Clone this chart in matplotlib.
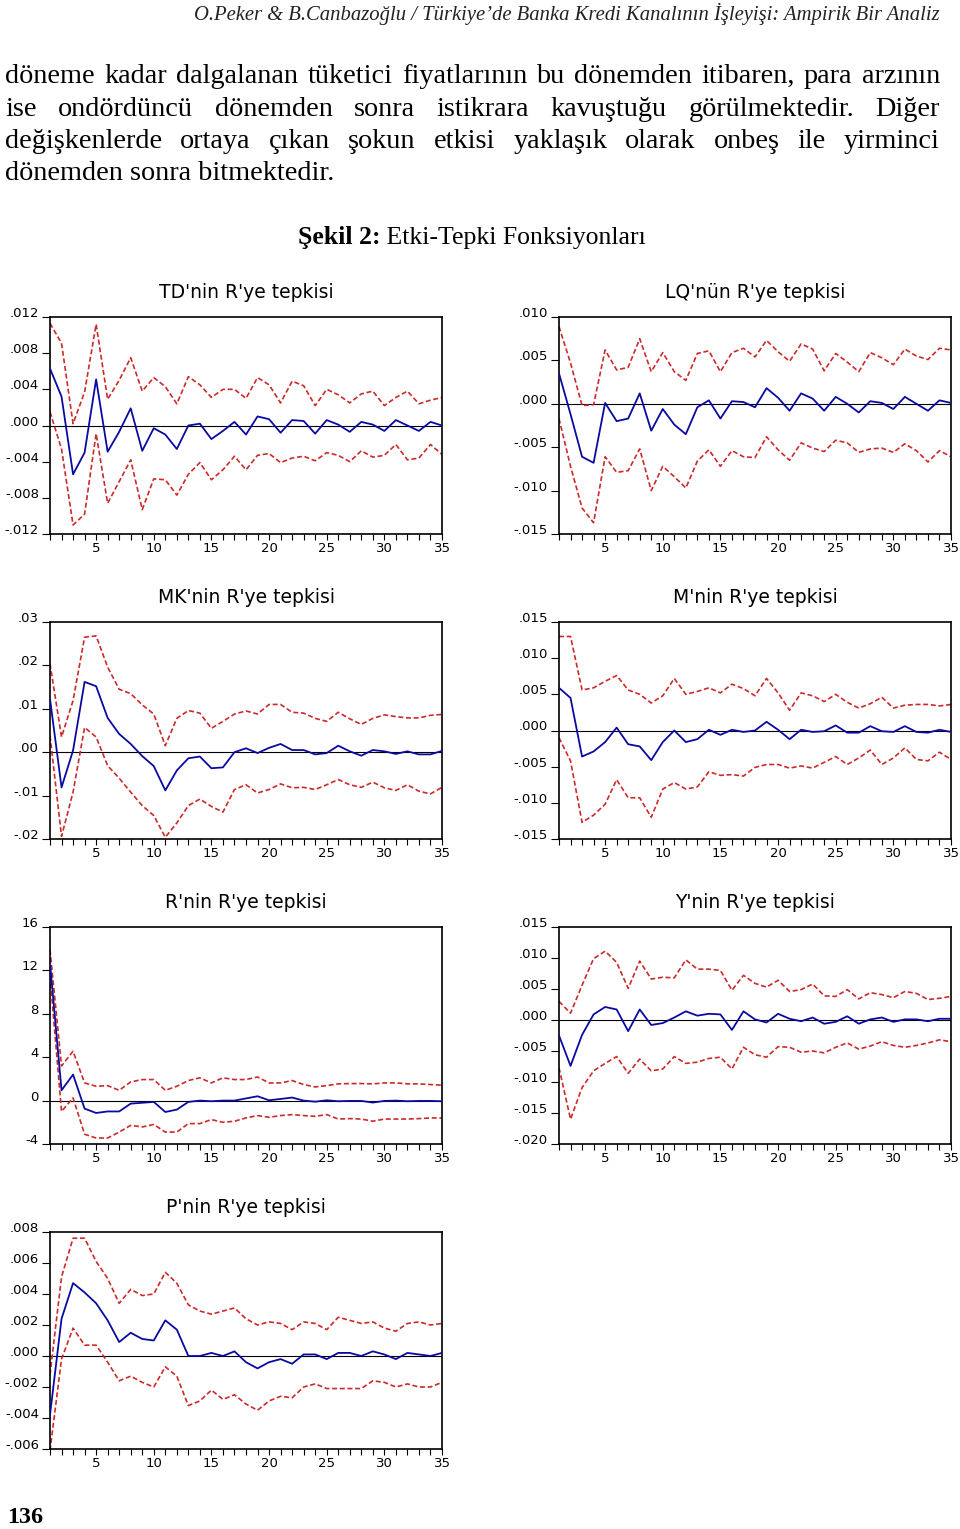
import matplotlib
matplotlib.use("Agg")
import matplotlib.pyplot as plt
from matplotlib.ticker import FixedLocator, MultipleLocator
import numpy as np

W, H = 960, 1529
periods = np.arange(1, 36)
xticks = [5, 10, 15, 20, 25, 30, 35]

# ---------------- data ----------------
td_resp = [0.0063, 0.0032, -0.0054, -0.0030, 0.0051,
           -0.0029, -0.0007, 0.0019, -0.0028, -0.0003,
           -0.0010, -0.0026, 0.0000, 0.0002, -0.0015,
           -0.0006, 0.0004, -0.0010, 0.0010, 0.0007,
           -0.0008, 0.0006, 0.0005, -0.0009, 0.0006,
           0.0001, -0.0007, 0.0004, 0.0001, -0.0006,
           0.0006, 0.0000, -0.0006, 0.0004, 0.0000]
td_upper = [0.0113, 0.0091, 0.0002, 0.0037, 0.0112,
            0.0029, 0.0050, 0.0075, 0.0038, 0.0053,
            0.0043, 0.0024, 0.0054, 0.0045, 0.0031,
            0.0040, 0.0040, 0.0030, 0.0053, 0.0045,
            0.0025, 0.0049, 0.0044, 0.0022, 0.0040,
            0.0034, 0.0025, 0.0035, 0.0038, 0.0022,
            0.0031, 0.0038, 0.0024, 0.0028, 0.0031]
td_lower = [0.0015, -0.0026, -0.0110, -0.0098, -0.0009,
            -0.0086, -0.0062, -0.0038, -0.0093, -0.0059,
            -0.0060, -0.0077, -0.0054, -0.0041, -0.0060,
            -0.0049, -0.0034, -0.0049, -0.0033, -0.0031,
            -0.0041, -0.0036, -0.0034, -0.0039, -0.0030,
            -0.0033, -0.0040, -0.0028, -0.0035, -0.0033,
            -0.0021, -0.0038, -0.0036, -0.0021, -0.0032]

lq_resp = [0.0035, -0.0012, -0.0061, -0.0068, 0.0001,
           -0.0020, -0.0017, 0.0012, -0.0031, -0.0006,
           -0.0024, -0.0035, -0.0004, 0.0004, -0.0017,
           0.0003, 0.0002, -0.0004, 0.0018, 0.0007,
           -0.0008, 0.0012, 0.0006, -0.0008, 0.0008,
           0.0000, -0.0010, 0.0003, 0.0001, -0.0006,
           0.0008, 0.0000, -0.0008, 0.0004, 0.0001]
lq_upper = [0.0089, 0.0047, -0.0002, -0.0001, 0.0062,
            0.0039, 0.0042, 0.0075, 0.0037, 0.0059,
            0.0037, 0.0027, 0.0058, 0.0061, 0.0037,
            0.0059, 0.0064, 0.0054, 0.0073, 0.0060,
            0.0049, 0.0069, 0.0063, 0.0038, 0.0058,
            0.0048, 0.0037, 0.0059, 0.0053, 0.0045,
            0.0063, 0.0055, 0.0051, 0.0064, 0.0062]
lq_lower = [-0.0017, -0.0072, -0.0120, -0.0137, -0.0061,
            -0.0079, -0.0077, -0.0052, -0.0100, -0.0072,
            -0.0084, -0.0097, -0.0066, -0.0053, -0.0072,
            -0.0054, -0.0061, -0.0062, -0.0038, -0.0053,
            -0.0065, -0.0045, -0.0051, -0.0055, -0.0042,
            -0.0045, -0.0056, -0.0052, -0.0051, -0.0056,
            -0.0046, -0.0054, -0.0067, -0.0054, -0.0061]

mk_resp = [0.0123, -0.0081, 0.0004, 0.0162, 0.0152,
           0.0079, 0.0042, 0.0019, -0.0009, -0.0032,
           -0.0088, -0.0042, -0.0014, -0.0010, -0.0037,
           -0.0035, 0.0000, 0.0009, -0.0002, 0.0010,
           0.0019, 0.0005, 0.0005, -0.0005, -0.0002,
           0.0015, 0.0002, -0.0008, 0.0005, 0.0002,
           -0.0004, 0.0002, -0.0005, -0.0005, 0.0003]
mk_upper = [0.0204, 0.0035, 0.0119, 0.0265, 0.0268,
            0.0196, 0.0145, 0.0135, 0.0109, 0.0088,
            0.0015, 0.0078, 0.0096, 0.0090, 0.0055,
            0.0071, 0.0088, 0.0095, 0.0088, 0.0110,
            0.0110, 0.0092, 0.0090, 0.0078, 0.0071,
            0.0092, 0.0077, 0.0064, 0.0078, 0.0086,
            0.0082, 0.0079, 0.0079, 0.0085, 0.0087]
mk_lower = [0.0038, -0.0194, -0.0092, 0.0057, 0.0035,
            -0.0031, -0.0060, -0.0092, -0.0123, -0.0146,
            -0.0196, -0.0163, -0.0123, -0.0108, -0.0125,
            -0.0138, -0.0086, -0.0075, -0.0094, -0.0086,
            -0.0073, -0.0082, -0.0081, -0.0086, -0.0075,
            -0.0063, -0.0075, -0.0081, -0.0069, -0.0082,
            -0.0088, -0.0075, -0.0090, -0.0096, -0.0081]

m_resp = [0.0059, 0.0045, -0.0036, -0.0029, -0.0016,
          0.0004, -0.0019, -0.0022, -0.0041, -0.0016,
          0.0000, -0.0016, -0.0012, 0.0001, -0.0006,
          0.0001, -0.0002, 0.0000, 0.0012, 0.0001,
          -0.0012, 0.0001, -0.0002, -0.0001, 0.0007,
          -0.0003, -0.0003, 0.0006, -0.0001, -0.0002,
          0.0006, -0.0002, -0.0003, 0.0001, -0.0002]
m_upper = [0.0130, 0.0130, 0.0056, 0.0059, 0.0068,
           0.0076, 0.0056, 0.0050, 0.0038, 0.0048,
           0.0072, 0.0050, 0.0054, 0.0059, 0.0052,
           0.0064, 0.0058, 0.0048, 0.0072, 0.0052,
           0.0028, 0.0052, 0.0048, 0.0040, 0.0050,
           0.0039, 0.0031, 0.0037, 0.0046, 0.0031,
           0.0035, 0.0036, 0.0036, 0.0034, 0.0036]
m_lower = [-0.0010, -0.0042, -0.0127, -0.0117, -0.0102,
           -0.0068, -0.0093, -0.0093, -0.0120, -0.0081,
           -0.0072, -0.0081, -0.0078, -0.0057, -0.0062,
           -0.0061, -0.0063, -0.0051, -0.0047, -0.0047,
           -0.0052, -0.0049, -0.0052, -0.0044, -0.0036,
           -0.0047, -0.0038, -0.0027, -0.0047, -0.0038,
           -0.0024, -0.0040, -0.0042, -0.0030, -0.0040]

r_resp = [12.7, 0.95, 2.4, -0.74, -1.14,
          -1.0, -1.0, -0.28, -0.2, -0.12,
          -1.05, -0.83, -0.12, 0.0, -0.06,
          0.0, 0.0, 0.2, 0.4, 0.03,
          0.15, 0.28, 0.0, -0.1, 0.03,
          -0.06, -0.03, -0.03, -0.18, -0.03,
          0.0, -0.06, -0.03, -0.03, -0.06]
r_upper = [13.9, 3.2, 4.55, 1.63, 1.32,
           1.38, 0.95, 1.72, 1.94, 1.94,
           0.95, 1.32, 1.85, 2.1, 1.63,
           2.1, 1.94, 1.94, 2.18, 1.63,
           1.63, 1.85, 1.48, 1.26, 1.38,
           1.54, 1.57, 1.57, 1.54, 1.63,
           1.63, 1.54, 1.54, 1.48, 1.42]
r_lower = [11.5, -1.0, 0.25, -3.1, -3.45,
           -3.45, -2.9, -2.28, -2.43, -2.2,
           -2.9, -2.9, -2.12, -2.12, -1.75,
           -2.0, -1.9, -1.6, -1.38, -1.54,
           -1.38, -1.29, -1.38, -1.45, -1.29,
           -1.7, -1.66, -1.7, -1.9, -1.7,
           -1.7, -1.7, -1.66, -1.6, -1.6]

y_resp = [-0.0025, -0.0074, -0.0024, 0.0009, 0.0021,
          0.0017, -0.0018, 0.0017, -0.0008, -0.0005,
          0.0004, 0.0014, 0.0007, 0.0010, 0.0009,
          -0.0016, 0.0014, 0.0001, -0.0004, 0.0010,
          0.0002, -0.0002, 0.0004, -0.0006, -0.0003,
          0.0006, -0.0006, 0.0001, 0.0004, -0.0003,
          0.0001, 0.0001, -0.0002, 0.0002, 0.0002]
y_upper = [0.0030, 0.0011, 0.0056, 0.0099, 0.0111,
           0.0093, 0.0051, 0.0095, 0.0066, 0.0069,
           0.0068, 0.0097, 0.0082, 0.0082, 0.0080,
           0.0048, 0.0072, 0.0059, 0.0053, 0.0064,
           0.0046, 0.0049, 0.0058, 0.0039, 0.0038,
           0.0049, 0.0034, 0.0044, 0.0041, 0.0036,
           0.0046, 0.0043, 0.0033, 0.0035, 0.0038]
y_lower = [-0.0077, -0.0160, -0.0109, -0.0082, -0.0070,
           -0.0059, -0.0086, -0.0063, -0.0082, -0.0079,
           -0.0059, -0.0070, -0.0068, -0.0062, -0.0060,
           -0.0079, -0.0044, -0.0056, -0.0060, -0.0043,
           -0.0044, -0.0052, -0.0050, -0.0053, -0.0044,
           -0.0037, -0.0047, -0.0042, -0.0035, -0.0041,
           -0.0044, -0.0041, -0.0037, -0.0032, -0.0035]

p_resp = [-0.0038, 0.0024, 0.0047, 0.0041, 0.0034,
          0.0023, 0.0009, 0.0015, 0.0011, 0.0010,
          0.0023, 0.0017, 0.0000, 0.0000, 0.0002,
          0.0000, 0.0003, -0.0004, -0.0008, -0.0004,
          -0.0002, -0.0005, 0.0001, 0.0001, -0.0002,
          0.0002, 0.0002, 0.0000, 0.0003, 0.0001,
          -0.0002, 0.0002, 0.0001, 0.0000, 0.0002]
p_upper = [-0.0012, 0.0051, 0.0076, 0.0076, 0.0061,
           0.0050, 0.0034, 0.0043, 0.0039, 0.0040,
           0.0054, 0.0047, 0.0033, 0.0029, 0.0027,
           0.0029, 0.0031, 0.0024, 0.0020, 0.0022,
           0.0021, 0.0017, 0.0022, 0.0021, 0.0017,
           0.0025, 0.0023, 0.0021, 0.0022, 0.0018,
           0.0016, 0.0021, 0.0022, 0.0020, 0.0021]
p_lower = [-0.0061, -0.0002, 0.0018, 0.0007, 0.0007,
           -0.0004, -0.0016, -0.0013, -0.0017, -0.0020,
           -0.0007, -0.0013, -0.0032, -0.0029, -0.0022,
           -0.0028, -0.0025, -0.0031, -0.0035, -0.0029,
           -0.0026, -0.0027, -0.0020, -0.0018, -0.0021,
           -0.0021, -0.0021, -0.0021, -0.0016, -0.0017,
           -0.0020, -0.0018, -0.0020, -0.0020, -0.0017]

titles = ["TD'nin R'ye tepkisi", "LQ'nün R'ye tepkisi", "MK'nin R'ye tepkisi",
          "M'nin R'ye tepkisi", "R'nin R'ye tepkisi", "Y'nin R'ye tepkisi",
          "P'nin R'ye tepkisi"]

td_yticks = [-0.012, -0.008, -0.004, 0.0, 0.004, 0.008, 0.012]
td_ylabels = ["-.012", "-.008", "-.004", ".000", ".004", ".008", ".012"]
lq_yticks = [-0.015, -0.010, -0.005, 0.0, 0.005, 0.010]
lq_ylabels = ["-.015", "-.010", "-.005", ".000", ".005", ".010"]
mk_yticks = [-0.02, -0.01, 0.0, 0.01, 0.02, 0.03]
mk_ylabels = ["-.02", "-.01", ".00", ".01", ".02", ".03"]
m_yticks = [-0.015, -0.010, -0.005, 0.0, 0.005, 0.010, 0.015]
m_ylabels = ["-.015", "-.010", "-.005", ".000", ".005", ".010", ".015"]
r_yticks = [-4, 0, 4, 8, 12, 16]
r_ylabels = ["-4", "0", "4", "8", "12", "16"]
y_yticks = [-0.020, -0.015, -0.010, -0.005, 0.0, 0.005, 0.010, 0.015]
y_ylabels = ["-.020", "-.015", "-.010", "-.005", ".000", ".005", ".010", ".015"]
p_yticks = [-0.006, -0.004, -0.002, 0.0, 0.002, 0.004, 0.006, 0.008]
p_ylabels = ["-.006", "-.004", "-.002", ".000", ".002", ".004", ".006", ".008"]

header = "O.Peker & B.Canbazoğlu / Türkiye’de Banka Kredi Kanalının İşleyişi: Ampirik Bir Analiz"
body_lines = [
    "döneme kadar dalgalanan tüketici fiyatlarının bu dönemden itibaren, para arzının",
    "ise ondördüncü dönemden sonra istikrara kavuştuğu görülmektedir. Diğer",
    "değişkenlerde ortaya çıkan şokun etkisi yaklaşık olarak onbeş ile yirminci",
    "dönemden sonra bitmektedir.",
]
caption_bold = "Şekil 2:"
caption_rest = " Etki-Tepki Fonksiyonları"
page_number = "136"

# ---------------- figure ----------------
fig = plt.figure(figsize=(W / 100, H / 100), dpi=100)
renderer = fig.canvas.get_renderer()
SERIF = ["Liberation Serif", "DejaVu Serif"]
SANS = ["DejaVu Sans"]


def fy(ypx):
    return 1 - ypx / H


def width_of(s, size, **kw):
    t = fig.text(0, 0, s, fontsize=size, **kw)
    w = t.get_window_extent(renderer=renderer).width
    t.remove()
    return w


def fit(s, target, **kw):
    return 20 * target / width_of(s, 20, **kw)


# header
hs = fit(header, 745, family=SERIF, style="italic")
fig.text(940 / W, fy(20), header, fontsize=hs, family=SERIF, style="italic",
         ha="right", va="baseline", color="#222222")

# body text (justified)
bs = fit(body_lines[-1], 329, family=SERIF)
baselines = [83, 115.5, 148, 180.5]
for i, (line, yb) in enumerate(zip(body_lines, baselines)):
    if i == len(body_lines) - 1:
        fig.text(5 / W, fy(yb), line, fontsize=bs, family=SERIF,
                 ha="left", va="baseline", color="black")
        continue
    words = line.split(" ")
    widths = [width_of(w, bs, family=SERIF) for w in words]
    gap = (940 - 5 - sum(widths)) / (len(words) - 1)
    x = 5.0
    for w, wd in zip(words, widths):
        fig.text(x / W, fy(yb), w, fontsize=bs, family=SERIF,
                 ha="left", va="baseline", color="black")
        x += wd + gap

# caption
cs_total = width_of(caption_bold, 20, family=SERIF, weight="bold") + \
    width_of(caption_rest, 20, family=SERIF)
cs = 20 * 349 / cs_total
wb = width_of(caption_bold, cs, family=SERIF, weight="bold")
fig.text(298 / W, fy(244), caption_bold, fontsize=cs, family=SERIF,
         weight="bold", ha="left", va="baseline")
fig.text((298 + wb) / W, fy(244), caption_rest, fontsize=cs, family=SERIF,
         ha="left", va="baseline")

# page number
ps = fit(page_number, 36, family=SERIF, weight="bold")
fig.text(7 / W, fy(1523), page_number, fontsize=ps, family=SERIF,
         weight="bold", ha="left", va="baseline")

# ---------------- panels ----------------
panels = [
    (td_resp, td_upper, td_lower, td_yticks, td_ylabels),
    (lq_resp, lq_upper, lq_lower, lq_yticks, lq_ylabels),
    (mk_resp, mk_upper, mk_lower, mk_yticks, mk_ylabels),
    (m_resp, m_upper, m_lower, m_yticks, m_ylabels),
    (r_resp, r_upper, r_lower, r_yticks, r_ylabels),
    (y_resp, y_upper, y_lower, y_yticks, y_ylabels),
    (p_resp, p_upper, p_lower, p_yticks, p_ylabels),
]
lefts = [50, 559]
tops = [317, 622, 927, 1232]
AW, AH = 392, 217
BLUE = "#0a0aa0"
RED = "#cc2a2a"

for k, (resp, up, lo, yt, yl) in enumerate(panels):
    left = lefts[k % 2]
    top = tops[k // 2]
    ax = fig.add_axes([left / W, 1 - (top + AH) / H, AW / W, AH / H])
    ax.axhline(0, color="black", lw=0.8, zorder=1)
    ax.plot(periods, up, color=RED, lw=1.2, ls=(0, (3, 1.6)), zorder=2)
    ax.plot(periods, lo, color=RED, lw=1.2, ls=(0, (3, 1.6)), zorder=2)
    ax.plot(periods, resp, color=BLUE, lw=1.3, zorder=3)
    ax.set_xlim(1, 35)
    ax.set_ylim(yt[0], yt[-1])
    ax.xaxis.set_major_locator(FixedLocator(xticks))
    ax.xaxis.set_minor_locator(MultipleLocator(1))
    ax.set_yticks(yt)
    ax.set_yticklabels(yl, family=SANS, fontsize=9.5)
    for lab in ax.get_yticklabels():
        lab.set_va("baseline")
    ax.set_xticklabels([str(v) for v in xticks], family=SANS, fontsize=9.5)
    ax.tick_params(axis="y", direction="out", length=6, width=0.8, pad=2)
    ax.tick_params(axis="x", which="both", direction="out", length=4,
                   width=0.8, pad=2)
    for s in ax.spines.values():
        s.set_linewidth(1.2)
        s.set_color("black")
    ax.set_title(titles[k], family=SANS, fontsize=13.5, pad=13.5)

fig.savefig("out.png", dpi=100)
